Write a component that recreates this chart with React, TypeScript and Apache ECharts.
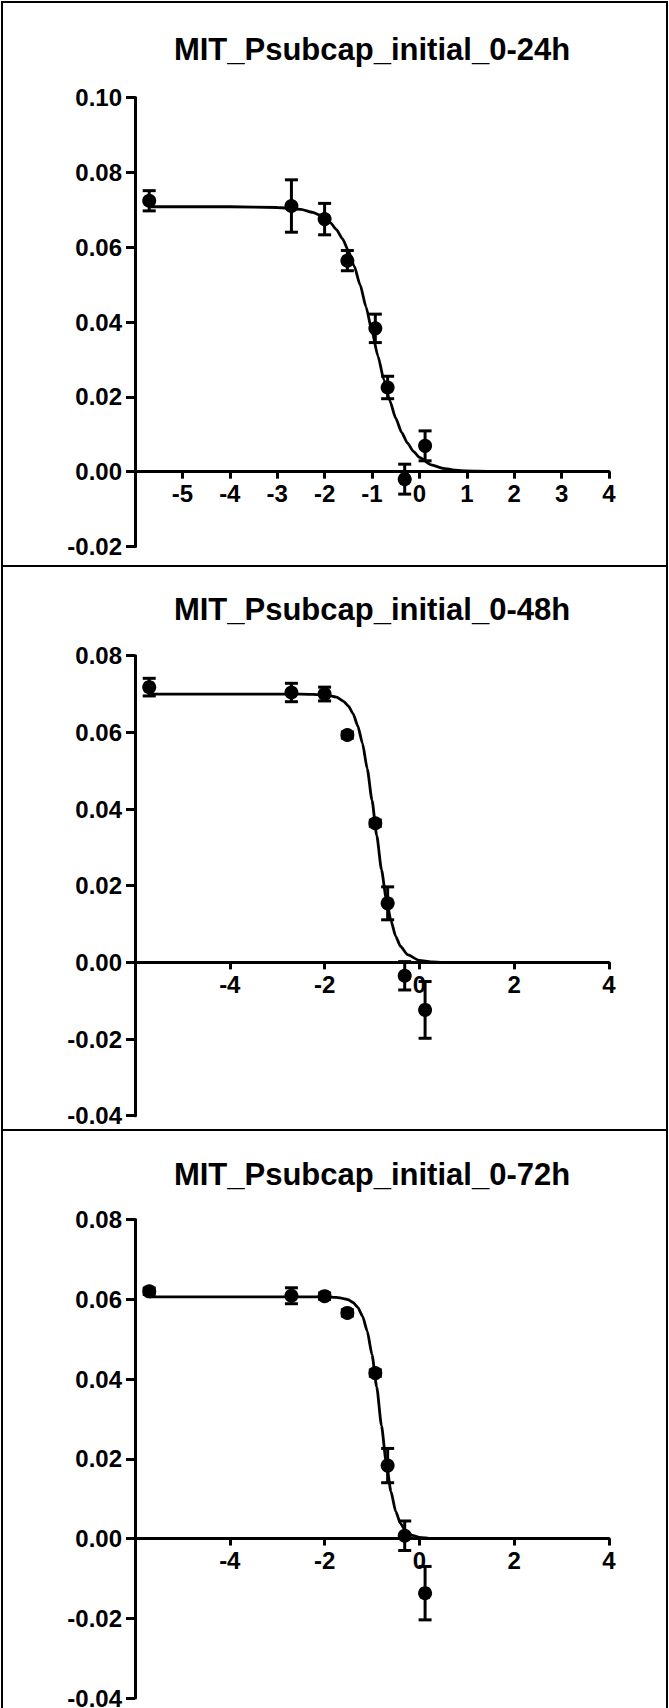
import React, { useEffect, useRef } from "react";
import * as echarts from "echarts";

// ---------- data ----------
const panelTitles = [
  "MIT_Psubcap_initial_0-24h",
  "MIT_Psubcap_initial_0-48h",
  "MIT_Psubcap_initial_0-72h",
];

// log concentration of each data point
const logDose = [-5.7, -2.7, -2.0, -1.52, -0.93, -0.67, -0.31, 0.12];

const mean24 = [0.0724, 0.071, 0.0675, 0.0564, 0.0383, 0.0225, -0.002, 0.0069];
const err24 = [0.0027, 0.007, 0.0042, 0.0027, 0.0038, 0.003, 0.004, 0.004];

const mean48 = [0.0718, 0.0704, 0.07, 0.0593, 0.0363, 0.0154, -0.0035, -0.0124];
const err48 = [0.0023, 0.0024, 0.0018, 0.0008, 0.0008, 0.0043, 0.0037, 0.0074];

const mean72 = [0.062, 0.0609, 0.0608, 0.0566, 0.0415, 0.0183, 0.0007, -0.0137];
const err72 = [0.0008, 0.002, 0.0008, 0.0008, 0.0008, 0.0043, 0.0037, 0.0067];

// fitted curves as [x, y]
const fit24 = [
  [-5.7, 0.0708], [-4.0, 0.0708], [-3.0, 0.0706], [-2.5, 0.0701], [-2.25, 0.0693],
  [-2.125, 0.0687], [-2.0, 0.0678], [-1.875, 0.0665], [-1.75, 0.0647], [-1.625, 0.0623],
  [-1.5, 0.0591], [-1.375, 0.0549], [-1.25, 0.0499], [-1.125, 0.044], [-1.0, 0.0375],
  [-0.875, 0.0309], [-0.75, 0.0246], [-0.625, 0.019], [-0.5, 0.0143], [-0.375, 0.0105],
  [-0.25, 0.0076], [-0.125, 0.0054], [0.0, 0.0038], [0.25, 0.0018], [0.5, 0.0009],
  [0.75, 0.0004], [1.0, 0.0002], [1.5, 0.00005], [2.0, 0.0],
];
const fit48 = [
  [-5.7, 0.07], [-3.0, 0.07], [-2.5, 0.07], [-2.0, 0.0698], [-1.75, 0.0692],
  [-1.6, 0.0681], [-1.5, 0.0669], [-1.4, 0.0649], [-1.3, 0.0617], [-1.2, 0.0571],
  [-1.1, 0.0505], [-1.0, 0.0423], [-0.9, 0.0331], [-0.8, 0.0242], [-0.7, 0.0166],
  [-0.6, 0.0109], [-0.5, 0.0068], [-0.4, 0.0042], [-0.25, 0.002], [0.0, 0.0005],
  [0.25, 0.0001], [0.5, 0.0], [2.0, 0.0],
];
const fit72 = [
  [-5.7, 0.0606], [-3.0, 0.0606], [-2.0, 0.0606], [-1.75, 0.0605], [-1.6, 0.0602],
  [-1.5, 0.0599], [-1.4, 0.0592], [-1.3, 0.058], [-1.2, 0.0558], [-1.1, 0.052],
  [-1.0, 0.0461], [-0.9, 0.038], [-0.8, 0.0283], [-0.7, 0.0191], [-0.6, 0.0118],
  [-0.5, 0.0068], [-0.4, 0.0038], [-0.3, 0.0021], [-0.15, 0.0008], [0.0, 0.0003],
  [0.25, 0.0], [2.0, 0.0],
];

const xTicksStep = [1, 2, 2];
const yRanges = [
  [-0.02, 0.1],
  [-0.04, 0.08],
  [-0.04, 0.08],
];

const FONT = '"Liberation Sans", Arial, Helvetica, sans-serif';

export default function App() {
  const ref = useRef<HTMLDivElement>(null);

  useEffect(() => {
    if (!ref.current) return;
    const chart = echarts.init(ref.current, null, { renderer: "svg" });

    const means = [mean24, mean48, mean72];
    const errs = [err24, err48, err72];
    const fits = [fit24, fit48, fit72];

    const grids = [
      { left: 135, top: 97.5, width: 474, height: 449 },
      { left: 135, top: 655.7, width: 474, height: 460 },
      { left: 135, top: 1219.6, width: 474, height: 478.4 },
    ];
    const titleY = [49, 609, 1174];

    const axisStyle = { color: "#000", width: 3 };
    const labelStyle = {
      color: "#000",
      fontWeight: "bold" as const,
      fontSize: 24,
      fontFamily: FONT,
    };

    // x axis sits on y = 0: shift it up from the grid bottom by the share of the range below zero
    const xAxis = grids.map((g, i) => ({
      type: "value",
      gridIndex: i,
      position: "bottom",
      offset: -(g.height * (0 - yRanges[i][0])) / (yRanges[i][1] - yRanges[i][0]),
      min: -6,
      max: 4,
      interval: xTicksStep[i],
      axisLine: { show: true, onZero: false, lineStyle: axisStyle },
      axisTick: { show: true, length: 7, lineStyle: axisStyle },
      axisLabel: {
        ...labelStyle,
        margin: 10,
        formatter: (v: number) => (Math.abs(v + 6) < 1e-9 ? "" : String(Math.round(v))),
      },
      splitLine: { show: false },
    }));

    const yAxis = grids.map((_, i) => ({
      type: "value",
      gridIndex: i,
      min: yRanges[i][0],
      max: yRanges[i][1],
      interval: 0.02,
      axisLine: { show: true, onZero: false, lineStyle: axisStyle },
      axisTick: { show: true, length: 9, lineStyle: axisStyle },
      axisLabel: {
        ...labelStyle,
        margin: 13,
        formatter: (v: number) => v.toFixed(2),
      },
      splitLine: { show: false },
    }));

    const series: any[] = [];
    for (let i = 0; i < 3; i++) {
      series.push({
        type: "line",
        xAxisIndex: i,
        yAxisIndex: i,
        data: fits[i],
        smooth: 0.2,
        smoothMonotone: "x",
        showSymbol: false,
        symbol: "none",
        lineStyle: { color: "#000", width: 2.8, opacity: 1 },
        z: 2,
        silent: true,
      });
      series.push({
        type: "custom",
        xAxisIndex: i,
        yAxisIndex: i,
        data: logDose.map((x, j) => [x, means[i][j], errs[i][j]]),
        encode: { x: 0, y: 1 },
        renderItem: (_params: any, api: any) => {
          const x = api.value(0);
          const m = api.value(1);
          const e = api.value(2);
          const top = api.coord([x, m + e]);
          const bot = api.coord([x, m - e]);
          const hw = 6.5;
          const st = { stroke: "#000", lineWidth: 3 };
          return {
            type: "group",
            children: [
              { type: "line", shape: { x1: top[0], y1: top[1], x2: bot[0], y2: bot[1] }, style: st },
              { type: "line", shape: { x1: top[0] - hw, y1: top[1], x2: top[0] + hw, y2: top[1] }, style: st },
              { type: "line", shape: { x1: bot[0] - hw, y1: bot[1], x2: bot[0] + hw, y2: bot[1] }, style: st },
            ],
          };
        },
        z: 3,
        silent: true,
      });
      series.push({
        type: "scatter",
        xAxisIndex: i,
        yAxisIndex: i,
        data: logDose.map((x, j) => [x, means[i][j]]),
        symbol: "circle",
        symbolSize: 14,
        itemStyle: { color: "#000", opacity: 1 },
        z: 4,
        silent: true,
      });
    }

    const borderStyle = { stroke: "#000", lineWidth: 2 };
    const L = 2;
    const R = 667;
    const graphic: any[] = [
      { type: "line", shape: { x1: L, y1: 1, x2: L, y2: 1708 }, style: borderStyle },
      { type: "line", shape: { x1: R, y1: 1, x2: R, y2: 1708 }, style: borderStyle },
      { type: "line", shape: { x1: L, y1: 2, x2: R, y2: 2 }, style: borderStyle },
      { type: "line", shape: { x1: L, y1: 566, x2: R, y2: 566 }, style: borderStyle },
      { type: "line", shape: { x1: L, y1: 1130, x2: R, y2: 1130 }, style: borderStyle },
    ];
    panelTitles.forEach((t, i) => {
      graphic.push({
        type: "text",
        x: 372,
        y: titleY[i],
        style: {
          text: t,
          fill: "#000",
          font: `bold 31px ${FONT}`,
          align: "center",
          verticalAlign: "middle",
          textAlign: "center",
          textVerticalAlign: "middle",
        },
      });
    });

    chart.setOption({
      animation: false,
      backgroundColor: "#fff",
      grid: grids.map((g) => ({ ...g, containLabel: false, outerBoundsMode: "none" })),
      xAxis,
      yAxis,
      series,
      graphic,
    });

    return () => chart.dispose();
  }, []);

  return (
    <div
      ref={ref}
      style={{ position: "absolute", left: 0, top: 0, width: 669, height: 1708 }}
    />
  );
}
